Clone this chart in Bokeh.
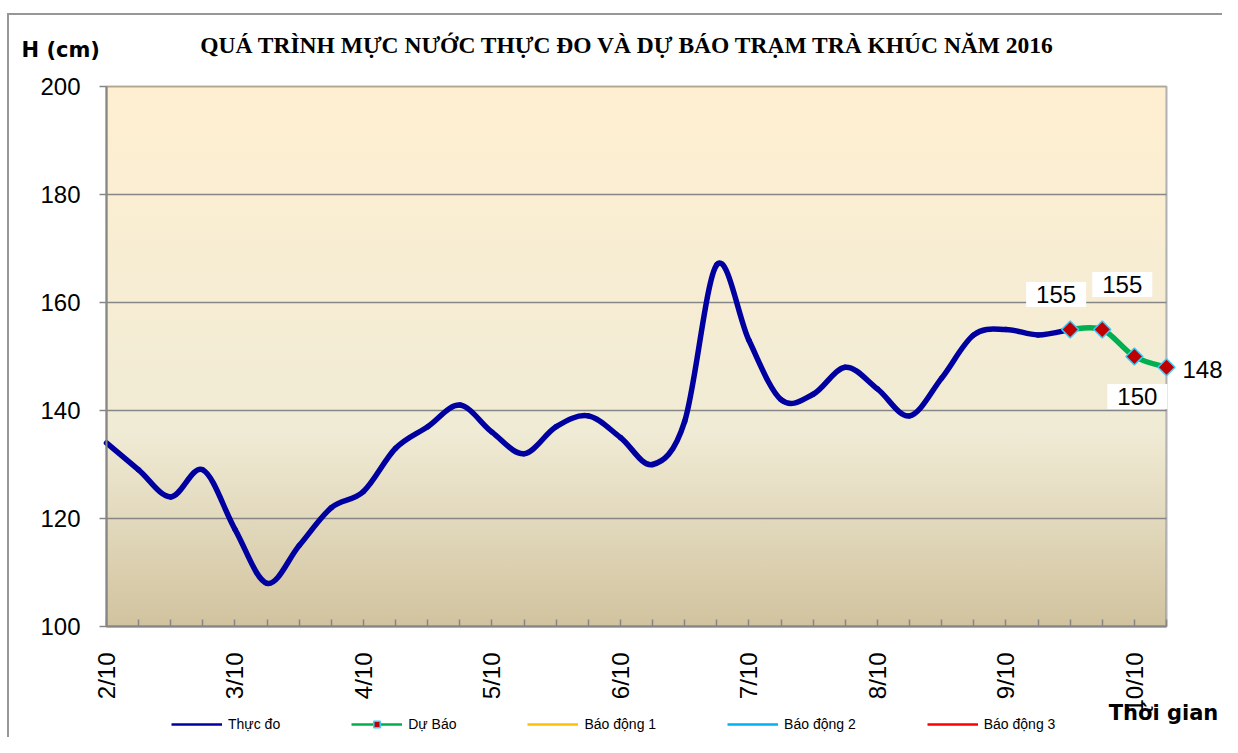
import math
from bokeh.plotting import figure
from bokeh.models import Range1d, FixedTicker, Label, Legend, LegendItem, BoxAnnotation
from bokeh.embed import file_html
from bokeh.resources import INLINE

# ---------------- data ----------------
TITLE = "QUÁ TRÌNH MỰC NƯỚC THỰC ĐO VÀ DỰ BÁO TRẠM  TRÀ KHÚC NĂM 2016"
Y_LABEL = "H (cm)"
X_LABEL = "Thời gian"
DAY_LABELS = ["2/10", "3/10", "4/10", "5/10", "6/10", "7/10", "8/10", "9/10", "10/10"]
STEPS_PER_DAY = 4  # one value every 6 hours
OBSERVED = [134, 129, 124, 129, 118, 108, 115, 122, 125, 133, 137,
            141, 136, 132, 137, 139, 135, 130, 138, 167, 153, 142,
            143, 148, 144, 139, 146, 154, 155, 154, 155]
FORECAST = [155, 155, 150, 148]
ALARM_LEVELS = [350, 500, 650]   # Báo động 1, 2, 3 (cm) - above the visible range
Y_TICKS = [100, 120, 140, 160, 180, 200]
SERIES = ["Thực đo", "Dự Báo", "Báo động 1", "Báo động 2", "Báo động 3"]

# ---------------- layout (pixels) ----------------
W, H = 1222, 737
PLOT_L, PLOT_R, PLOT_T, PLOT_B = 106, 1166, 86, 626

# ---------------- derived ----------------
obs_x = list(range(len(OBSERVED)))
fc_start = len(OBSERVED) - 1
fc_x = list(range(fc_start, fc_start + len(FORECAST)))
n_pts = fc_start + len(FORECAST)
all_x = list(range(n_pts))
x_lo, x_hi = 0, n_pts - 1
y_lo, y_hi = Y_TICKS[0], Y_TICKS[-1]
ppx = (PLOT_R - PLOT_L) / (x_hi - x_lo)
ppy = (PLOT_B - PLOT_T) / (y_hi - y_lo)


def smooth(xs, ys):
    """Bezier segments through the data points (Excel-like smoothed line)."""
    n = len(xs)
    out = {k: [] for k in ("x0", "y0", "x1", "y1", "cx0", "cy0", "cx1", "cy1")}
    for k in range(n - 1):
        a = max(k - 1, 0)
        b = min(k + 2, n - 1)
        out["x0"].append(xs[k]); out["y0"].append(ys[k])
        out["x1"].append(xs[k + 1]); out["y1"].append(ys[k + 1])
        out["cx0"].append(xs[k] + (xs[k + 1] - xs[a]) / 6)
        out["cy0"].append(ys[k] + (ys[k + 1] - ys[a]) / 6)
        out["cx1"].append(xs[k + 1] - (xs[b] - xs[k]) / 6)
        out["cy1"].append(ys[k + 1] - (ys[b] - ys[k]) / 6)
    return out


# the frame covers the whole canvas; axes are fixed at the plot-area edges
p = figure(width=W, height=H, title=None,
           x_range=Range1d(x_lo - PLOT_L / ppx, x_hi + (W - PLOT_R) / ppx),
           y_range=Range1d(y_lo - (H - PLOT_B) / ppy, y_hi + PLOT_T / ppy),
           output_backend="svg", toolbar_location=None,
           min_border_left=0, min_border_right=0, min_border_top=0, min_border_bottom=0)

p.background_fill_alpha = 0
p.border_fill_alpha = 0
p.outline_line_color = None
p.styles = {
    "background-image": "linear-gradient(#FFEFD1, #F0EBD5 64%, #D1C39F), "
                        "linear-gradient(#979797, #979797), linear-gradient(#979797, #979797)",
    "background-position": f"{PLOT_L}px {PLOT_T}px, 7px 13px, 7px 13px",
    "background-size": f"{PLOT_R - PLOT_L}px {PLOT_B - PLOT_T}px, 100% 2px, 2px 100%",
    "background-repeat": "no-repeat",
}

p.xgrid.visible = False
p.ygrid.visible = False

# plot-area border (top/right black; left/bottom covered by the grey axes)
p.add_layout(BoxAnnotation(left=x_lo, right=x_hi, bottom=y_lo, top=y_hi,
                           fill_alpha=0, line_color="black", line_width=2,
                           level="underlay"))

# horizontal grid lines
grid_y = Y_TICKS[1:-1]
p.segment(x0=[x_lo] * len(grid_y), x1=[x_hi] * len(grid_y), y0=grid_y, y1=grid_y,
          line_color="#868686", line_width=1.5)

# y axis
p.yaxis.fixed_location = x_lo
p.yaxis.bounds = (y_lo, y_hi)
p.yaxis.ticker = FixedTicker(ticks=Y_TICKS)
p.yaxis.axis_line_color = "#868686"
p.yaxis.axis_line_width = 2
p.yaxis.major_tick_line_color = "#868686"
p.yaxis.major_tick_line_width = 1.5
p.yaxis.major_tick_out = 7
p.yaxis.major_tick_in = 0
p.yaxis.minor_tick_line_color = None
p.yaxis.major_label_standoff = 19
p.yaxis.major_label_text_font = "Liberation Sans"
p.yaxis.major_label_text_font_size = "24px"
p.yaxis.major_label_text_color = "black"

# x axis
overrides = {i: "" for i in all_x}
for d, lab in enumerate(DAY_LABELS):
    overrides[d * STEPS_PER_DAY] = lab
p.xaxis.fixed_location = y_lo
p.xaxis.bounds = (x_lo, x_hi)
p.xaxis.ticker = FixedTicker(ticks=all_x)
p.xaxis.major_label_overrides = overrides
p.xaxis.major_label_orientation = math.pi / 2
p.xaxis.axis_line_color = "#868686"
p.xaxis.axis_line_width = 2
p.xaxis.major_tick_line_color = "#868686"
p.xaxis.major_tick_line_width = 1.5
p.xaxis.major_tick_in = 7
p.xaxis.major_tick_out = 0
p.xaxis.minor_tick_line_color = None
p.xaxis.major_label_standoff = 26
p.xaxis.major_label_text_font = "Liberation Sans"
p.xaxis.major_label_text_font_size = "24px"
p.xaxis.major_label_text_color = "black"

# alarm levels (outside the visible range, as in the original)
ALARM_COLORS = ["#FFC000", "#00B0F0", "#FF0000"]
alarm_r = [p.line(all_x, [lvl] * n_pts, line_color=c, line_width=2.5)
           for lvl, c in zip(ALARM_LEVELS, ALARM_COLORS)]

# series
p.bezier(**smooth(obs_x, OBSERVED), line_color="#0000A0", line_width=5.5, line_cap="round")
p.bezier(**smooth(fc_x, FORECAST), line_color="#00B050", line_width=5.5, line_cap="round")
p.scatter(fc_x, FORECAST, marker="square", angle=math.pi / 4, size=12,
          fill_color="#C00000", line_color="#33CCFF", line_width=1.5)

# data labels
DX = [-14, 20, 3, 36]
DY = [35, 45, -40, -2]
for i, (xv, yv) in enumerate(zip(fc_x, FORECAST)):
    inside = i < len(FORECAST) - 1
    p.add_layout(Label(x=xv, y=yv, text=str(yv), x_offset=DX[i], y_offset=DY[i],
                       text_align="center", text_baseline="middle", text_color="black",
                       text_font="Liberation Sans", text_font_size="24px",
                       background_fill_color="white" if inside else None,
                       padding=(10, 4) if inside else 0))

# legend key renderers (no visible data)
nan = float("nan")
r_obs = p.line([nan], [nan], line_color="#0000A0", line_width=2.5)
r_fc = p.line([nan], [nan], line_color="#00B050", line_width=2.5)
r_fcm = p.scatter([nan], [nan], marker="square", angle=math.pi / 4, size=7,
                  fill_color="#C00000", line_color="#33CCFF", line_width=1.5)

items = [LegendItem(label=name, renderers=rends)
         for name, rends in zip(SERIES, [[r_obs], [r_fc, r_fcm]] + [[r] for r in alarm_r])]
legend = Legend(items=items, location=(171, 5), orientation="horizontal",
                padding=0, margin=0, spacing=71,
                border_line_alpha=0, background_fill_alpha=0,
                glyph_width=51, glyph_height=16, label_height=16, label_standoff=6,
                label_text_font="Liberation Sans", label_text_font_size="14px",
                label_text_color="black")
p.add_layout(legend)

# free texts (screen units from the canvas' bottom-left corner)
p.add_layout(Label(x=630, y=H - 44, x_units="screen", y_units="screen", text=TITLE,
                   text_font="Liberation Serif", text_font_style="bold", text_font_size="23.5px",
                   text_align="center", text_baseline="middle", text_color="black"))
p.add_layout(Label(x=21, y=H - 49, x_units="screen", y_units="screen", text=Y_LABEL,
                   text_font="DejaVu Sans", text_font_style="bold", text_font_size="21px",
                   text_align="left", text_baseline="middle", text_color="black"))
p.add_layout(Label(x=1163, y=H - 712, x_units="screen", y_units="screen", text=X_LABEL,
                   text_font="DejaVu Sans", text_font_style="bold", text_font_size="21px",
                   text_align="center", text_baseline="middle", text_color="black"))

open("out.html", "w").write(file_html(p, INLINE))
